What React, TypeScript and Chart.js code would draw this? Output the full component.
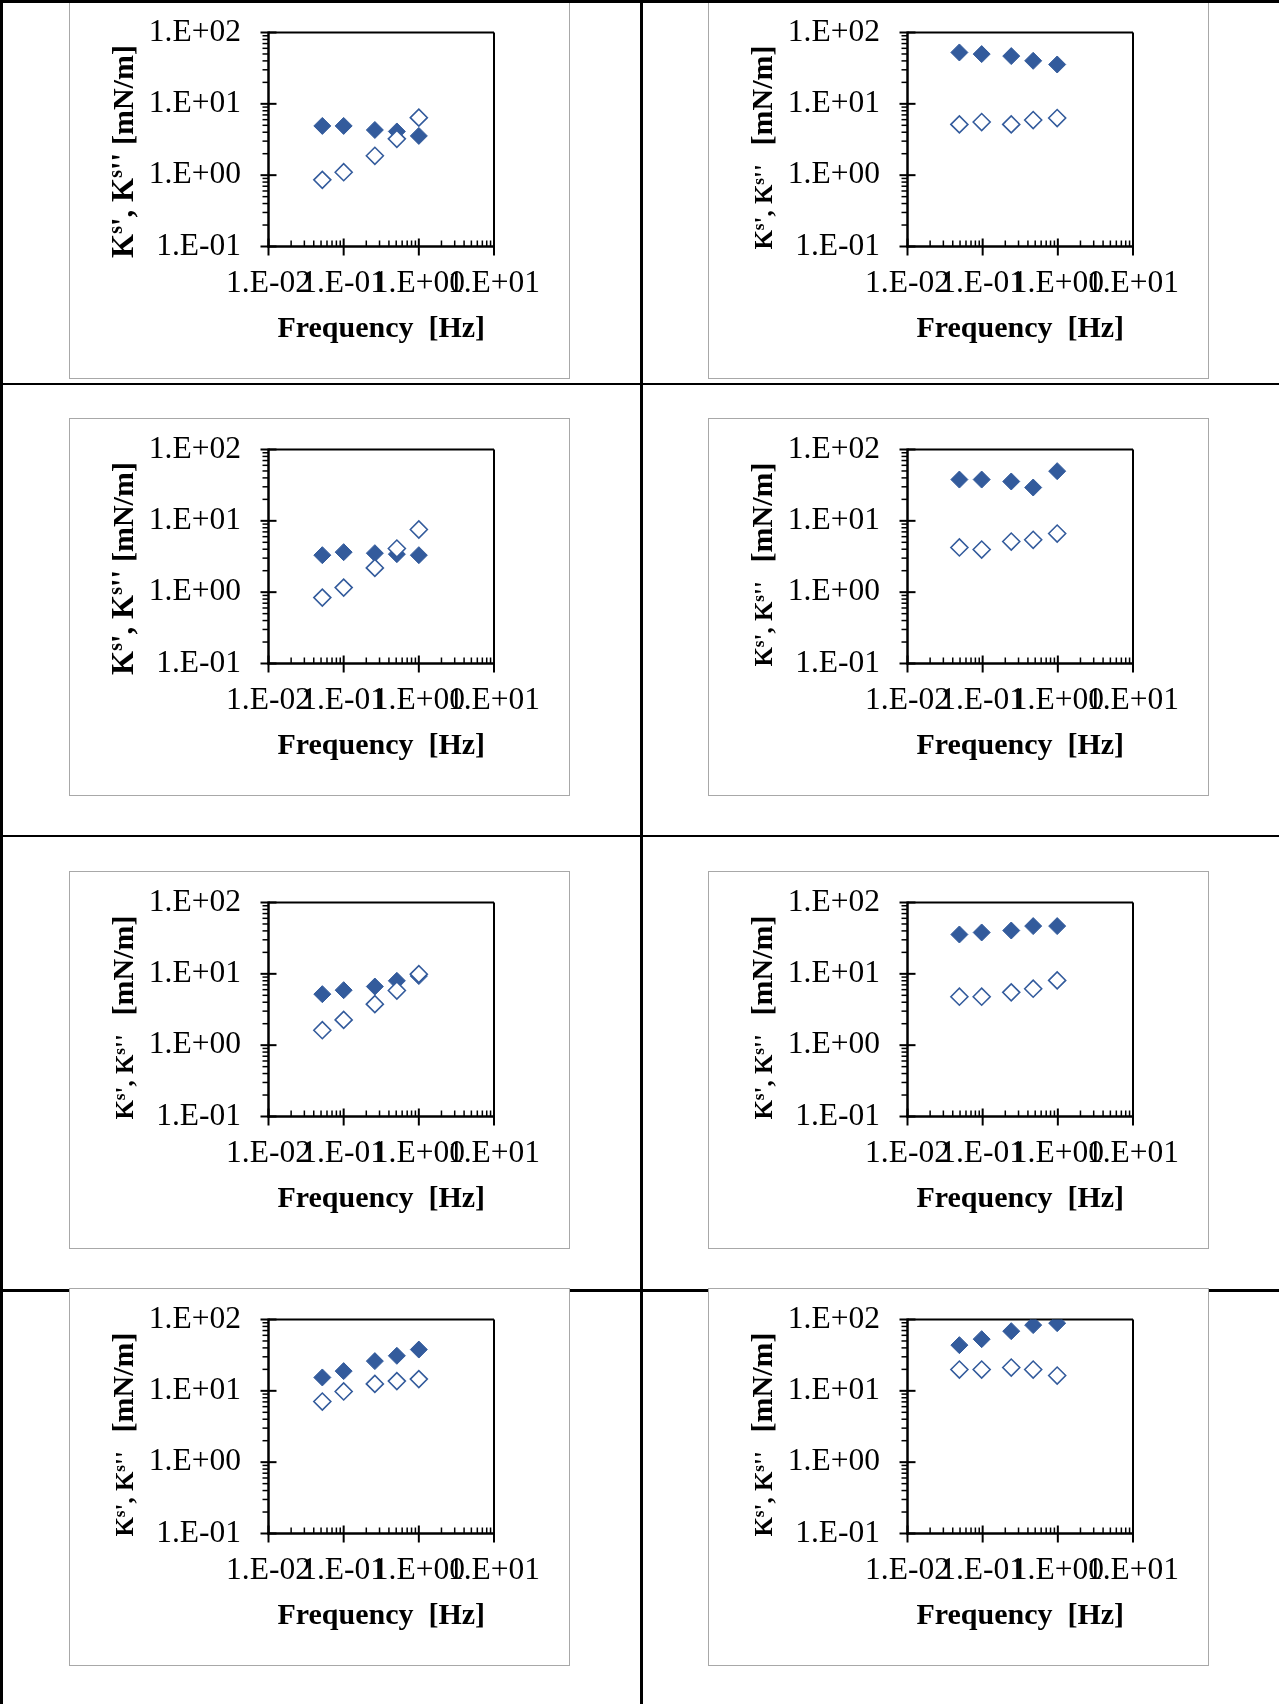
import React, { useEffect, useRef } from 'react';
import { Chart, registerables } from 'chart.js';

Chart.register(...registerables);

const FONT = "'Liberation Serif', 'Times New Roman', Times, serif";
const BLUE = '#335B9C';

// Frequencies [Hz] of the five measurements (left / right column read slightly differently)
const freqLeft = [0.052, 0.1, 0.26, 0.51, 1.0];
const freqRight = [0.049, 0.097, 0.24, 0.47, 0.98];

// Axis ticks
const xTickValues = [0.01, 0.1, 1, 10];
const xTickLabels = ['1.E-02', '1.E-01', '1.E+00', '1.E+01'];
const yTickValues = [0.1, 1, 10, 100];
const yTickLabels = ['1.E-01', '1.E+00', '1.E+01', '1.E+02'];
const minorSteps = [2, 3, 4, 5, 6, 7, 8, 9];

// Ks' (filled diamonds) and Ks'' (open diamonds) [mN/m]
const ksA = [4.9, 4.9, 4.3, 4.1, 3.55];
const kssA = [0.86, 1.1, 1.87, 3.23, 6.4];

const ksB = [52.5, 49.8, 46.7, 40.1, 35.6];
const kssB = [5.15, 5.56, 5.15, 5.93, 6.32];

const ksC = [3.3, 3.64, 3.52, 3.41, 3.3];
const kssC = [0.84, 1.16, 2.19, 4.09, 7.56];

const ksD = [37.9, 37.9, 35.6, 29.3, 49.7];
const kssD = [4.23, 3.96, 5.13, 5.42, 6.64];

const ksE = [5.19, 5.9, 6.64, 7.98, 9.3];
const kssE = [1.62, 2.26, 3.76, 5.84, 9.9];

const ksF = [35.6, 38.0, 40.5, 46.7, 46.7];
const kssF = [4.78, 4.78, 5.5, 6.18, 8.09];

const ksG = [15.4, 18.9, 26.1, 31.0, 37.9];
const kssG = [7.08, 9.8, 12.5, 13.7, 14.6];

const ksH = [43.7, 53.0, 68.6, 83.4, 88.9];
const kssH = [19.9, 19.9, 21.2, 19.9, 16.4];

// Texts
const xTitle = 'Frequency  [Hz]';
const yTitleParts = ['K', 's', "', K", 's', "''"];
const yTitleUnit = '[mN/m]';

// Layout (page pixels)
const BOX_W = 501;
const BOX_H = 378;
const PLOT_LEFT = 199.5;
const PLOT_RIGHT = 425;
const PLOT_TOP = 31.5;
const PLOT_BOTTOM = 245.5;
const colLefts = [69, 708];
const rowTops = [1, 418, 871, 1288];

type Panel = { freq: number[]; ks: number[]; kss: number[]; big: boolean; col: number; row: number };

const panels: Panel[] = [
  { freq: freqLeft, ks: ksA, kss: kssA, big: true, col: 0, row: 0 },
  { freq: freqRight, ks: ksB, kss: kssB, big: false, col: 1, row: 0 },
  { freq: freqLeft, ks: ksC, kss: kssC, big: true, col: 0, row: 1 },
  { freq: freqRight, ks: ksD, kss: kssD, big: false, col: 1, row: 1 },
  { freq: freqLeft, ks: ksE, kss: kssE, big: false, col: 0, row: 2 },
  { freq: freqRight, ks: ksF, kss: kssF, big: false, col: 1, row: 2 },
  { freq: freqLeft, ks: ksG, kss: kssG, big: false, col: 0, row: 3 },
  { freq: freqRight, ks: ksH, kss: kssH, big: false, col: 1, row: 3 },
];

function line(ctx: CanvasRenderingContext2D, x1: number, y1: number, x2: number, y2: number, w: number) {
  ctx.lineWidth = w;
  ctx.beginPath();
  ctx.moveTo(x1, y1);
  ctx.lineTo(x2, y2);
  ctx.stroke();
}

function makeDecor(big: boolean) {
  return {
    id: 'axisDecor',
    beforeDatasetsDraw(chart: any) {
      const ctx: CanvasRenderingContext2D = chart.ctx;
      const { left, right, top, bottom } = chart.chartArea;
      const xs = chart.scales.x;
      const ys = chart.scales.y;
      ctx.save();
      ctx.strokeStyle = '#000';
      ctx.lineCap = 'butt';
      // y minor ticks (outside)
      for (const d of yTickValues.slice(0, -1)) {
        for (const m of minorSteps) {
          const py = ys.getPixelForValue(d * m);
          line(ctx, left - 6, py, left, py, 1.5);
        }
      }
      // y major ticks (cross)
      for (const v of yTickValues) {
        const py = ys.getPixelForValue(v);
        line(ctx, left - 8, py, left + 8, py, 2);
      }
      // x minor ticks (inside)
      for (const d of xTickValues.slice(0, -1)) {
        for (const m of minorSteps) {
          const px = xs.getPixelForValue(d * m);
          line(ctx, px, bottom - 6, px, bottom, 1.5);
        }
      }
      // x major ticks (cross)
      for (const v of xTickValues) {
        const px = xs.getPixelForValue(v);
        line(ctx, px, bottom - 8, px, bottom + 9, 2);
      }
      // plot area border
      line(ctx, left, top, right, top, 2);
      line(ctx, right, top, right, bottom, 2);
      // axis lines
      line(ctx, left, top - 1, left, bottom + 1, 2.5);
      line(ctx, left - 1, bottom, right + 1, bottom, 2.5);
      ctx.restore();
    },
    afterDraw(chart: any) {
      const ctx: CanvasRenderingContext2D = chart.ctx;
      const kSize = big ? 31 : 25;
      const supSize = Math.round(kSize * 0.66);
      const supRaise = kSize * 0.34;
      const segs: { t: string; size: number; raise: number }[] = [];
      yTitleParts.forEach((t, i) => {
        const sup = i % 2 === 1;
        segs.push({ t, size: sup ? supSize : kSize, raise: sup ? supRaise : 0 });
      });
      segs.push({ t: big ? ' ' : '   ', size: kSize, raise: 0 });
      segs.push({ t: yTitleUnit, size: 30, raise: 0 });
      let total = 0;
      const widths: number[] = [];
      for (const s of segs) {
        ctx.font = `bold ${s.size}px ${FONT}`;
        const w = ctx.measureText(s.t).width;
        widths.push(w);
        total += w;
      }
      const cx = 64;
      const cy = big ? 150.5 : 146.5;
      ctx.save();
      ctx.fillStyle = '#000';
      ctx.textAlign = 'left';
      ctx.textBaseline = 'alphabetic';
      ctx.translate(cx, cy);
      ctx.rotate(-Math.PI / 2);
      let u = -total / 2;
      segs.forEach((s, i) => {
        ctx.font = `bold ${s.size}px ${FONT}`;
        ctx.fillText(s.t, u, -s.raise);
        u += widths[i];
      });
      ctx.restore();
    },
  };
}

function KChart({ panel }: { panel: Panel }) {
  const ref = useRef<HTMLCanvasElement>(null);
  useEffect(() => {
    const canvas = ref.current;
    if (!canvas) return;
    const { freq, ks, kss, big } = panel;
    const chart = new Chart(canvas, {
      type: 'scatter',
      data: {
        datasets: [
          {
            label: "Ks''",
            data: freq.map((f, i) => ({ x: f, y: kss[i] })),
            pointStyle: 'rectRot',
            pointRadius: 8.5,
            pointBackgroundColor: '#ffffff',
            pointBorderColor: BLUE,
            pointBorderWidth: 1.6,
            showLine: false,
          },
          {
            label: "Ks'",
            data: freq.map((f, i) => ({ x: f, y: ks[i] })),
            pointStyle: 'rectRot',
            pointRadius: 8.5,
            pointBackgroundColor: BLUE,
            pointBorderColor: BLUE,
            pointBorderWidth: 1,
            showLine: false,
          },
        ],
      },
      options: {
        animation: false,
        responsive: false,
        devicePixelRatio: 1,
        events: [],
        layout: { padding: { left: 0, right: BOX_W - PLOT_RIGHT, top: PLOT_TOP, bottom: 0 } },
        plugins: {
          legend: { display: false },
          tooltip: { enabled: false },
          title: { display: false },
        },
        scales: {
          x: {
            type: 'logarithmic',
            position: 'bottom',
            min: 0.01,
            max: 10,
            afterBuildTicks: (s: any) => {
              s.ticks = xTickValues.map((v) => ({ value: v }));
            },
            afterFit: (s: any) => {
              s.height = BOX_H - PLOT_BOTTOM;
              s.paddingLeft = 0;
              s.paddingRight = 0;
            },
            ticks: {
              autoSkip: false,
              maxRotation: 0,
              minRotation: 0,
              padding: 18,
              color: '#000',
              font: { family: FONT, size: 31.5 },
              callback: (_v: any, i: number) => xTickLabels[i],
            },
            grid: { display: false, drawTicks: false, drawOnChartArea: false },
            border: { display: false },
            title: {
              display: true,
              text: xTitle,
              color: '#000',
              font: { family: FONT, size: 30, weight: 'bold' },
              padding: { top: 0, bottom: 32 },
            },
          },
          y: {
            type: 'logarithmic',
            position: 'left',
            min: 0.1,
            max: 100,
            afterBuildTicks: (s: any) => {
              s.ticks = yTickValues.map((v) => ({ value: v }));
            },
            afterFit: (s: any) => {
              s.width = PLOT_LEFT;
              s.paddingTop = 0;
              s.paddingBottom = 0;
            },
            ticks: {
              autoSkip: false,
              padding: 27.5,
              color: '#000',
              font: { family: FONT, size: 31.5 },
              callback: (_v: any, i: number) => yTickLabels[i],
            },
            grid: { display: false, drawTicks: false, drawOnChartArea: false },
            border: { display: false },
          },
        },
      } as any,
      plugins: [makeDecor(big)],
    });
    return () => chart.destroy();
  }, [panel]);
  return (
    <canvas
      ref={ref}
      width={BOX_W}
      height={BOX_H}
      style={{ position: 'absolute', left: -1.5, top: -1.5, width: BOX_W, height: BOX_H }}
    />
  );
}

const blackLine = (style: React.CSSProperties): React.CSSProperties => ({
  position: 'absolute',
  background: '#000',
  ...style,
});

export default function App() {
  useEffect(() => {
    document.body.style.margin = '0';
    document.body.style.overflow = 'hidden';
  }, []);
  return (
    <div
      style={{
        position: 'absolute',
        left: 0,
        top: 0,
        width: 1279,
        height: 1704,
        background: '#fff',
        overflow: 'hidden',
      }}
    >
      {/* row separator that runs under the last row of boxes */}
      <div style={blackLine({ left: 0, top: 1289, width: 1279, height: 2.5 })} />
      {panels.map((p, i) => (
        <div
          key={i}
          style={{
            position: 'absolute',
            left: colLefts[p.col],
            top: rowTops[p.row],
            width: BOX_W,
            height: BOX_H,
            boxSizing: 'border-box',
            border: '1.5px solid #a8a8a8',
            background: '#fff',
          }}
        >
          <KChart panel={p} />
        </div>
      ))}
      <div style={blackLine({ left: 0, top: 0, width: 1279, height: 2.5 })} />
      <div style={blackLine({ left: 0, top: 382.5, width: 1279, height: 2.5 })} />
      <div style={blackLine({ left: 0, top: 834.5, width: 1279, height: 2.5 })} />
      <div style={blackLine({ left: 0, top: 0, width: 2.5, height: 1704 })} />
      <div style={blackLine({ left: 640, top: 0, width: 2.5, height: 1704 })} />
    </div>
  );
}
